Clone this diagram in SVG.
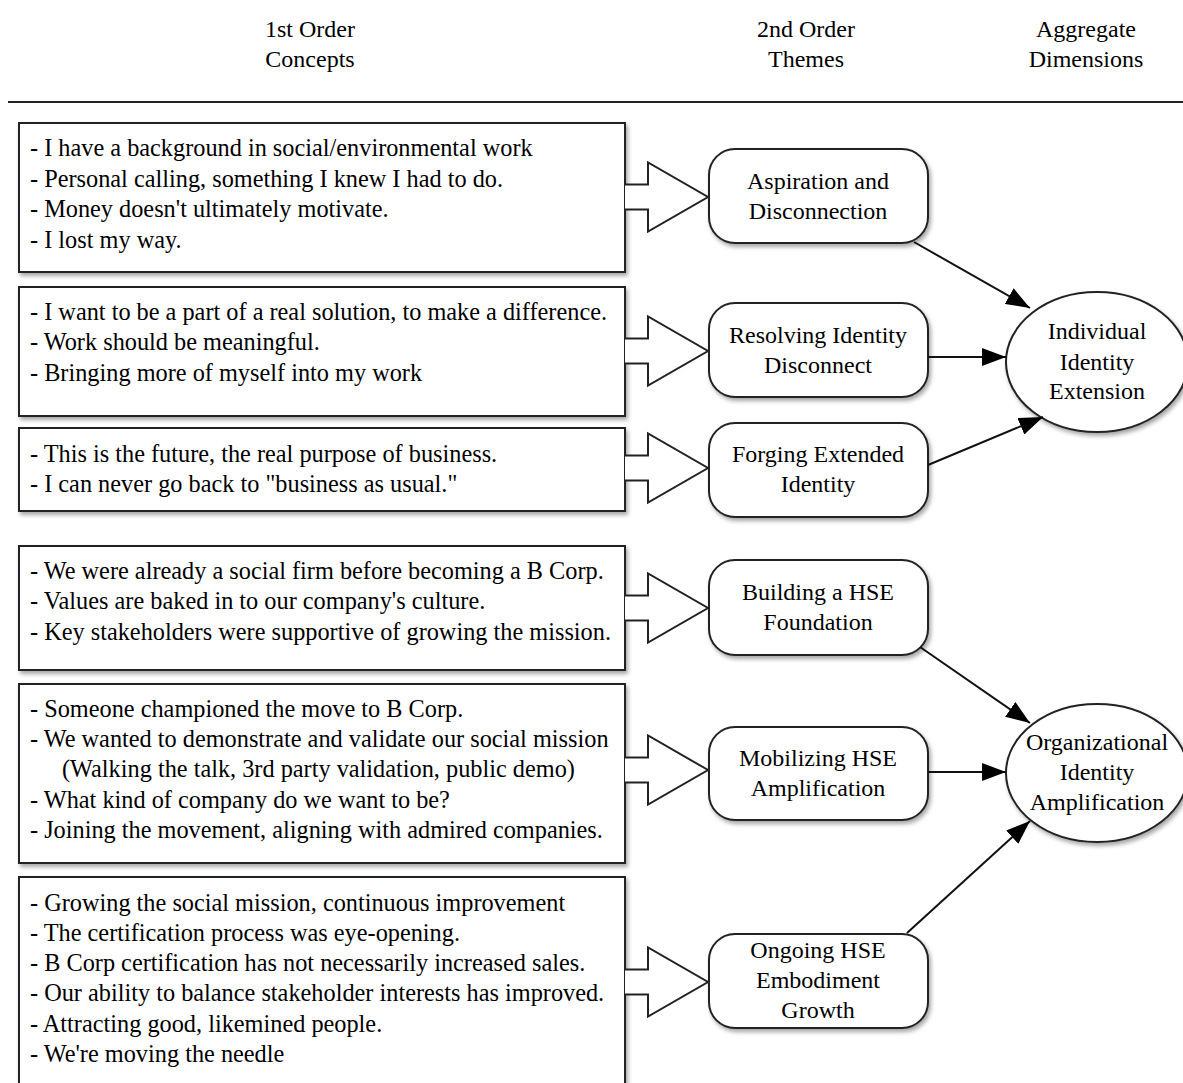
<svg xmlns="http://www.w3.org/2000/svg" width="1183" height="1083" viewBox="0 0 1183 1083">
<style>
  text { font-family: "Liberation Serif", "Times New Roman", serif; font-size: 24px; fill: #000; }
  .body { font-size: 24.3px; }
  .hdr { text-anchor: middle; }
  .mid { text-anchor: middle; }
  .box { fill: #fff; stroke: #222; stroke-width: 2; }
  .rbox { fill: #fff; stroke: #222; stroke-width: 2; }
  .ell { fill: #fff; stroke: #222; stroke-width: 2; }
  .harrow { fill: #fff; stroke: #222; stroke-width: 2; stroke-linejoin: miter; }
  .conn { stroke: #111; stroke-width: 2; fill: none; }
</style>
<defs>
  <filter id="sh" x="-5%" y="-5%" width="115%" height="120%">
    <feDropShadow dx="2" dy="3" stdDeviation="2" flood-color="#000" flood-opacity="0.35"/>
  </filter>
  <marker id="ah" markerWidth="24" markerHeight="18" refX="24" refY="9" orient="auto" markerUnits="userSpaceOnUse">
    <path d="M0,0 L24,9 L0,18 Z" fill="#000"/>
  </marker>
</defs>
<rect width="1183" height="1083" fill="#fff"/>

<g id="header">
  <text class="hdr" x="310" y="37">1st Order</text>
  <text class="hdr" x="310" y="67">Concepts</text>
  <text class="hdr" x="806" y="37">2nd Order</text>
  <text class="hdr" x="806" y="67">Themes</text>
  <text class="hdr" x="1086" y="37">Aggregate</text>
  <text class="hdr" x="1086" y="67">Dimensions</text>
  <line x1="8" y1="102" x2="1183" y2="102" stroke="#222" stroke-width="2"/>
</g>

<g id="concepts1" class="body">
  <rect class="box" x="19" y="123" width="606" height="149" filter="url(#sh)"/>
  <text class="body" x="30" y="156">- I have a background in social/environmental work</text>
  <text class="body" x="30" y="187">- Personal calling, something I knew I had to do.</text>
  <text class="body" x="30" y="217">- Money doesn't ultimately motivate.</text>
  <text class="body" x="30" y="248">- I lost my way.</text>
</g>
<g id="concepts2">
  <rect class="box" x="19" y="287" width="606" height="129" filter="url(#sh)"/>
  <text class="body" x="30" y="320">- I want to be a part of a real solution, to make a difference.</text>
  <text class="body" x="30" y="350">- Work should be meaningful.</text>
  <text class="body" x="30" y="381">- Bringing more of myself into my work</text>
</g>
<g id="concepts3">
  <rect class="box" x="19" y="428" width="606" height="83" filter="url(#sh)"/>
  <text class="body" x="30" y="462">- This is the future, the real purpose of business.</text>
  <text class="body" x="30" y="492">- I can never go back to "business as usual."</text>
</g>
<g id="concepts4">
  <rect class="box" x="19" y="546" width="606" height="124" filter="url(#sh)"/>
  <text class="body" x="30" y="579">- We were already a social firm before becoming a B Corp.</text>
  <text class="body" x="30" y="609">- Values are baked in to our company's culture.</text>
  <text class="body" x="30" y="640">- Key stakeholders were supportive of growing the mission.</text>
</g>
<g id="concepts5">
  <rect class="box" x="19" y="684" width="606" height="179" filter="url(#sh)"/>
  <text class="body" x="30" y="717">- Someone championed the move to B Corp.</text>
  <text class="body" x="30" y="747">- We wanted to demonstrate and validate our social mission</text>
  <text class="body" x="62" y="777">(Walking the talk, 3rd party validation, public demo)</text>
  <text class="body" x="30" y="808">- What kind of company do we want to be?</text>
  <text class="body" x="30" y="838">- Joining the movement, aligning with admired companies.</text>
</g>
<g id="concepts6">
  <rect class="box" x="19" y="877" width="606" height="230" filter="url(#sh)"/>
  <text class="body" x="30" y="911">- Growing the social mission, continuous improvement</text>
  <text class="body" x="30" y="941">- The certification process was eye-opening.</text>
  <text class="body" x="30" y="971">- B Corp certification has not necessarily increased sales.</text>
  <text class="body" x="30" y="1001">- Our ability to balance stakeholder interests has improved.</text>
  <text class="body" x="30" y="1032">- Attracting good, likemined people.</text>
  <text class="body" x="30" y="1062">- We're moving the needle</text>
</g>

<g id="hollow-arrows">
  <path class="harrow" d="M625,184.5 H648 V162.5 L708,197 L648,231.5 V209.5 H625"/>
  <path class="harrow" d="M625,338.5 H648 V316.5 L708,351 L648,385.5 V363.5 H625"/>
  <path class="harrow" d="M625,455.5 H648 V433.5 L708,468 L648,502.5 V480.5 H625"/>
  <path class="harrow" d="M625,595.5 H648 V573.5 L708,608 L648,642.5 V620.5 H625"/>
  <path class="harrow" d="M625,757.5 H648 V735.5 L708,770 L648,804.5 V782.5 H625"/>
  <path class="harrow" d="M625,969.5 H648 V947.5 L708,982 L648,1016.5 V994.5 H625"/>
</g>

<g id="theme1">
  <rect class="rbox" x="709" y="149" width="219" height="94" rx="26" filter="url(#sh)"/>
  <text class="mid" x="818" y="189">Aspiration and</text>
  <text class="mid" x="818" y="219">Disconnection</text>
</g>
<g id="theme2">
  <rect class="rbox" x="709" y="303" width="219" height="94" rx="26" filter="url(#sh)"/>
  <text class="mid" x="818" y="343">Resolving Identity</text>
  <text class="mid" x="818" y="373">Disconnect</text>
</g>
<g id="theme3">
  <rect class="rbox" x="709" y="423" width="219" height="94" rx="26" filter="url(#sh)"/>
  <text class="mid" x="818" y="462">Forging Extended</text>
  <text class="mid" x="818" y="492">Identity</text>
</g>
<g id="theme4">
  <rect class="rbox" x="709" y="560" width="219" height="95" rx="26" filter="url(#sh)"/>
  <text class="mid" x="818" y="600">Building a HSE</text>
  <text class="mid" x="818" y="630">Foundation</text>
</g>
<g id="theme5">
  <rect class="rbox" x="709" y="727" width="219" height="93" rx="26" filter="url(#sh)"/>
  <text class="mid" x="818" y="766">Mobilizing HSE</text>
  <text class="mid" x="818" y="796">Amplification</text>
</g>
<g id="theme6">
  <rect class="rbox" x="709" y="934" width="219" height="94" rx="26" filter="url(#sh)"/>
  <text class="mid" x="818" y="958">Ongoing HSE</text>
  <text class="mid" x="818" y="988">Embodiment</text>
  <text class="mid" x="818" y="1018">Growth</text>
</g>

<g id="dim1">
  <ellipse class="ell" cx="1097" cy="362" rx="91" ry="70" filter="url(#sh)"/>
  <text class="mid" x="1097" y="339">Individual</text>
  <text class="mid" x="1097" y="370">Identity</text>
  <text class="mid" x="1097" y="399">Extension</text>
</g>
<g id="dim2">
  <ellipse class="ell" cx="1097" cy="773" rx="91" ry="69" filter="url(#sh)"/>
  <text class="mid" x="1097" y="750">Organizational</text>
  <text class="mid" x="1097" y="780">Identity</text>
  <text class="mid" x="1097" y="810">Amplification</text>
</g>

<g id="connectors">
  <line class="conn" x1="914" y1="242" x2="1030" y2="308" marker-end="url(#ah)"/>
  <line class="conn" x1="928" y1="357" x2="1006" y2="357" marker-end="url(#ah)"/>
  <line class="conn" x1="928" y1="465" x2="1043" y2="417" marker-end="url(#ah)"/>
  <line class="conn" x1="920" y1="647" x2="1030" y2="723" marker-end="url(#ah)"/>
  <line class="conn" x1="928" y1="772" x2="1006" y2="772" marker-end="url(#ah)"/>
  <line class="conn" x1="907" y1="933" x2="1030" y2="821" marker-end="url(#ah)"/>
</g>
</svg>
